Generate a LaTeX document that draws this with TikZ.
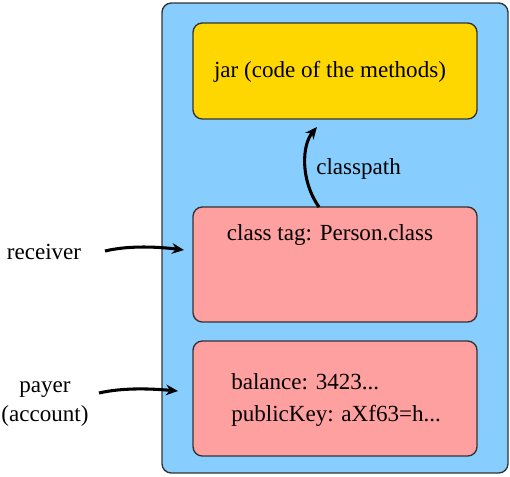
\documentclass[tikz,border=0pt]{standalone}
\usepackage{fontspec}
\setmainfont{Liberation Serif}
\usetikzlibrary{arrows.meta}
\definecolor{outerblue}{HTML}{87CEFF}
\definecolor{jaryellow}{HTML}{FFD700}
\definecolor{objpink}{HTML}{FFA0A0}
\definecolor{edge}{HTML}{333333}
\tikzset{
  box/.style={draw=edge, line width=1pt, rounded corners=7pt},
  lbl/.style={font=\fontsize{17.3}{21}\selectfont, inner sep=0pt},
  flow/.style={line width=2.3pt, -{Stealth[length=9pt,width=8pt]}}
}
\begin{document}
\begin{tikzpicture}[x=0.75pt,y=-0.75pt]
\useasboundingbox (0,0) rectangle (510,476);
\draw[box, fill=outerblue] (162,3) rectangle (508,473);
\draw[box, fill=jaryellow] (193,23) rectangle (477,119);
\draw[box, fill=objpink] (193,207) rectangle (477,322);
\draw[box, fill=objpink] (193,341) rectangle (477,456);
\node[lbl] (jar) at (330,72) {jar (code of the methods)};
\node[lbl, anchor=west] (cp) at (316,169) {classpath};
\node[lbl] (tag) at (330,235) {class tag: Person.class};
\node[lbl, anchor=west] (bal) at (231,382) {balance: 3423...};
\node[lbl, anchor=west] (pk) at (231,416) {publicKey: aXf63=h...};
\node[lbl] (recv) at (44,252) {receiver};
\node[lbl, align=center] (payer) at (45,404) {payer\\[1pt](account)};
\coordinate (a1s) at (105,251);
\coordinate (a1e) at (184,250);
\coordinate (a2s) at (99,393);
\coordinate (a2e) at (178,391);
\coordinate (a3s) at (319,207);
\coordinate (a3e) at (317,127);
\draw[flow] (a1s) .. controls (130,245) and (160,247) .. (a1e);
\draw[flow] (a2s) .. controls (125,387) and (155,389) .. (a2e);
\draw[flow] (a3s) .. controls (300,180) and (302,145) .. (a3e);
\end{tikzpicture}
\end{document}
